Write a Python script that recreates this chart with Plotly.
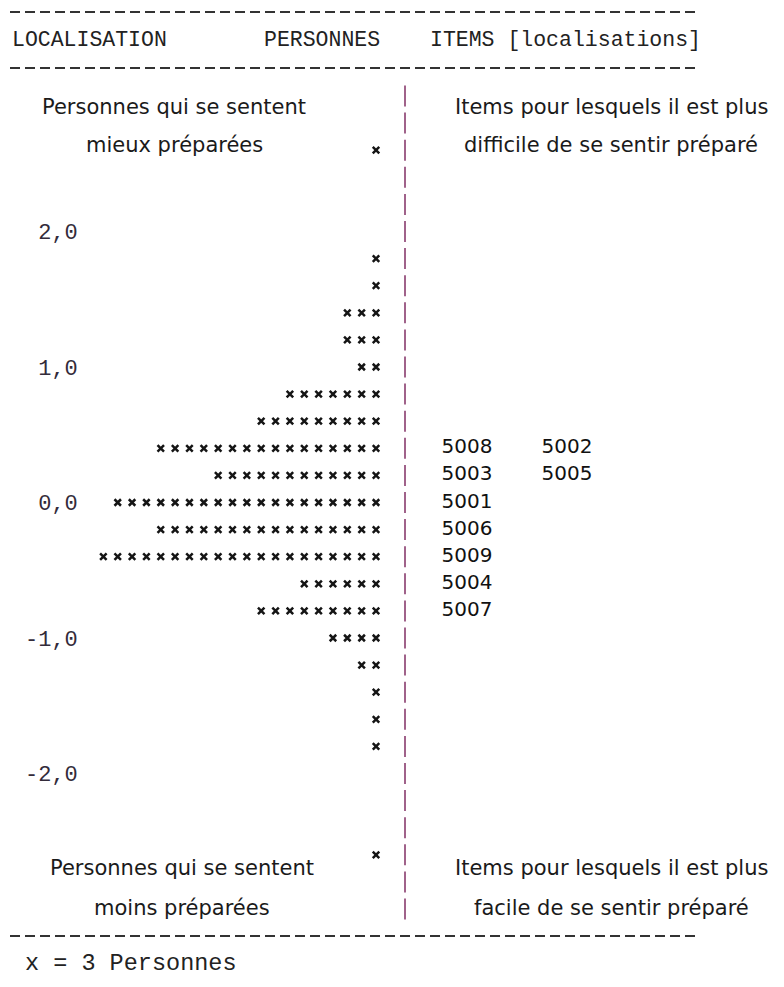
import plotly.graph_objects as go

# ---------------- data ----------------
row_logits = [2.6, 2.4, 2.2, 2.0, 1.8, 1.6, 1.4, 1.2, 1.0, 0.8, 0.6, 0.4, 0.2, 0.0,
              -0.2, -0.4, -0.6, -0.8, -1.0, -1.2, -1.4, -1.6, -1.8, -2.0, -2.2, -2.4, -2.6]
person_marks = [1, 0, 0, 0, 1, 1, 3, 3, 2, 7, 9, 16, 12, 19,
                16, 20, 6, 9, 4, 2, 1, 1, 1, 0, 0, 0, 1]   # each mark = 3 persons

item_labels = ["5008", "5002", "5003", "5005", "5001", "5006", "5009", "5004", "5007"]
item_logits = [0.4, 0.4, 0.2, 0.2, 0.0, -0.2, -0.4, -0.6, -0.8]

tick_vals = [2.0, 1.0, 0.0, -1.0, -2.0]
tick_text = ["\u00a02,0", "\u00a01,0", "\u00a00,0", "-1,0", "-2,0"]

header_labels = ["LOCALISATION", "PERSONNES", "ITEMS [localisations]"]
top_left_text = ["Personnes qui se sentent", "mieux préparées"]
top_right_text = ["Items pour lesquels il est plus", "difficile de se sentir préparé"]
bot_left_text = ["Personnes qui se sentent", "moins préparées"]
bot_right_text = ["Items pour lesquels il est plus", "facile de se sentir préparé"]
legend_text = "x = 3 Personnes"

# ---------------- layout constants ----------------
W, H = 784, 987
COL = 14.35          # px per character column
ROW_PX = 135.5       # px per logit unit
SEP_X = 405          # separator pixel x
ZERO_Y = 502.5       # pixel y of logit 0

def px(x):
    return x / W

def py(y):
    return 1 - y / H

# person marks
mx, my = [], []
for lg, n in zip(row_logits, person_marks):
    for j in range(n):
        mx.append(-(j + 2.02))
        my.append(lg)

# item positions (column order within a row)
ix, iy = [], []
seen = {}
for lab, lg in zip(item_labels, item_logits):
    k = seen.get(lg, 0)
    seen[lg] = k + 1
    ix.append(2.55 + 6.97 * k)
    iy.append(lg)

# separator rows
sep_rows = [round(3.0 - 0.2 * i, 1) for i in range(31)]

fig = go.Figure()
fig.add_trace(go.Scatter(
    x=[0] * len(sep_rows), y=sep_rows, mode="markers", hoverinfo="skip",
    marker=dict(symbol="line-ns", size=15, color="#a0628a",
                line=dict(width=2, color="#a0628a")),
    showlegend=False))
fig.add_trace(go.Scatter(
    x=mx, y=my, mode="markers",
    marker=dict(symbol="x-thin", size=6.5, color="#151515",
                line=dict(width=2.5, color="#151515")),
    showlegend=False))
fig.add_trace(go.Scatter(
    x=ix, y=iy, mode="text", text=item_labels, textposition="middle right",
    textfont=dict(family="DejaVu Sans", size=20, color="#111"),
    showlegend=False))

mono = "Liberation Mono"
sans = "DejaVu Sans"
ann = []
# header
for lab, x0 in zip(header_labels, [10, 262, 428]):
    ann.append(dict(text=lab, x=px(x0), y=py(40), xanchor="left", yanchor="middle",
                    font=dict(family=mono, size=21.5, color="#222")))
# descriptive texts
for lines, cx, ys in [(top_left_text, 174, [107, 145]),
                      (top_right_text, 611, [107, 145]),
                      (bot_left_text, 182, [868, 908]),
                      (bot_right_text, 611, [868, 908])]:
    for t, yy in zip(lines, ys):
        ann.append(dict(text=t, x=px(cx), y=py(yy), xanchor="center", yanchor="middle",
                        font=dict(family=sans, size=21, color="#1a1a1a")))
# legend
ann.append(dict(text=legend_text, x=px(23), y=py(963), xanchor="left", yanchor="middle",
                font=dict(family=mono, size=23.5, color="#222")))
for a in ann:
    a.update(xref="paper", yref="paper", showarrow=False)

shapes = []
for yy in [12, 68, 936]:
    shapes.append(dict(type="line", xref="paper", yref="paper",
                       x0=px(10), x1=px(697), y0=py(yy), y1=py(yy),
                       line=dict(color="#333", width=2, dash="10px,5px")))

fig.update_layout(
    width=W, height=H, margin=dict(l=0, r=0, t=0, b=0),
    paper_bgcolor="white", plot_bgcolor="white",
    xaxis=dict(range=[-SEP_X / COL, (W - SEP_X) / COL], visible=False, fixedrange=True),
    yaxis=dict(range=[-(H - ZERO_Y) / ROW_PX, ZERO_Y / ROW_PX],
               tickvals=tick_vals, ticktext=tick_text, ticks="",
               ticklabelposition="inside", ticklabelstandoff=22,
               tickfont=dict(family=mono, size=22, color="#332b3a"),
               showgrid=False, zeroline=False, showline=False, fixedrange=True),
    annotations=ann, shapes=shapes, showlegend=False,
)

fig.write_html("out.html", config={"displayModeBar": False},
               post_script="document.body.style.margin='0';")
